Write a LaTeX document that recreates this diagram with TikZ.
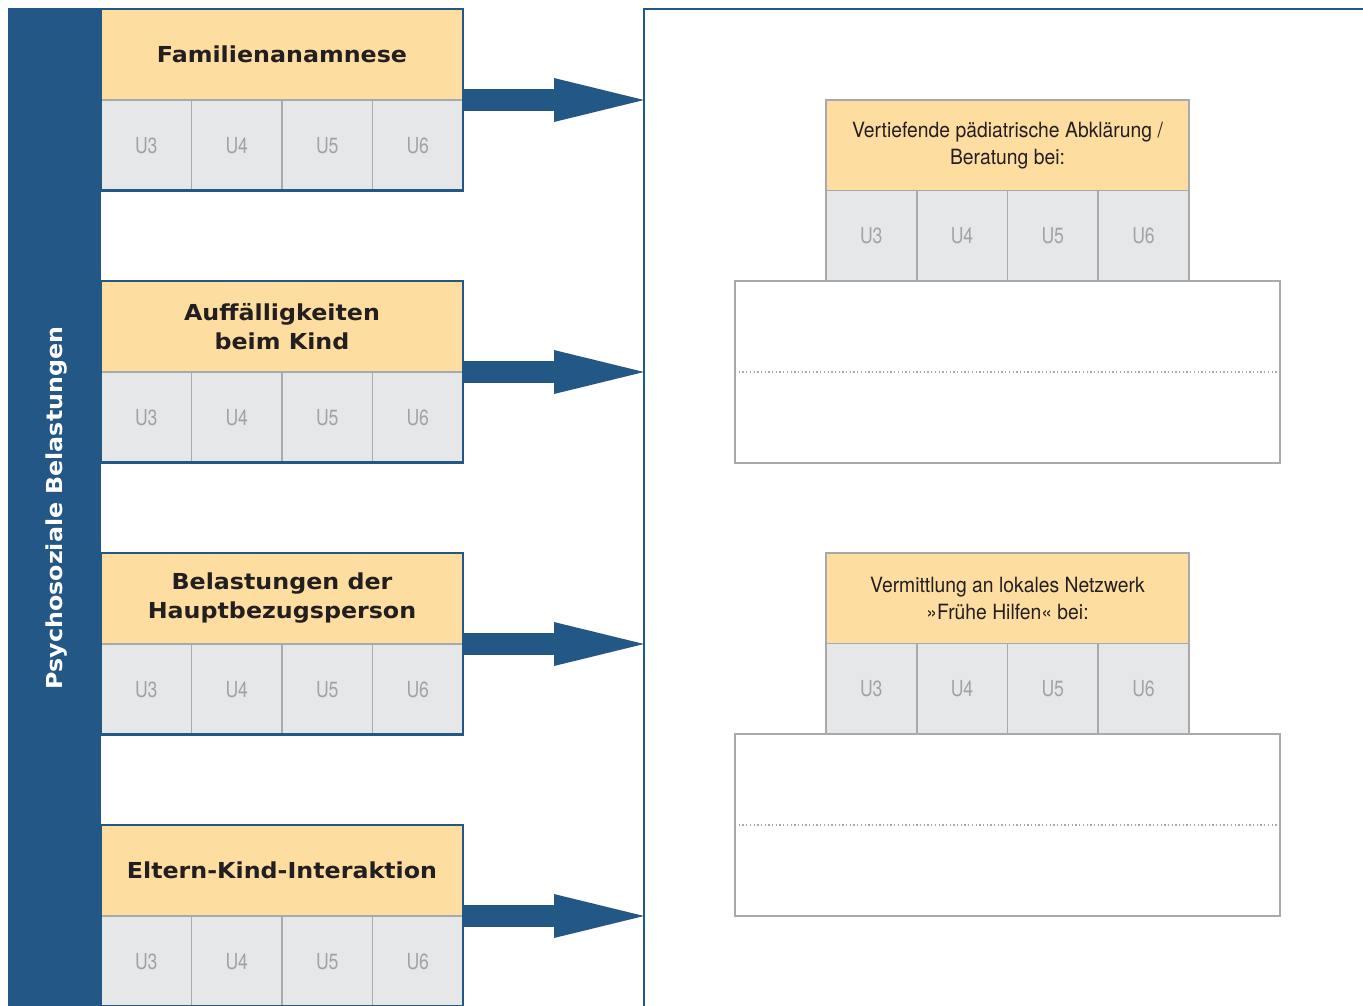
\documentclass[tikz,border=0pt]{standalone}
\usepackage{fontspec}
\setmainfont{TeX Gyre Heros}
\newfontfamily\condf[FakeStretch=0.8]{TeX Gyre Heros}
\newfontfamily\rcondf[FakeStretch=0.92]{TeX Gyre Heros}
\newfontfamily\boldf[FakeStretch=1.08]{DejaVu Sans}
\usetikzlibrary{arrows.meta}
\definecolor{dblue}{HTML}{235785}
\definecolor{ylw}{HTML}{FDDDA0}
\definecolor{cellg}{HTML}{E6E7E8}
\definecolor{lineg}{HTML}{A7A9AC}
\definecolor{txtg}{HTML}{A0A2A5}
\definecolor{txtd}{HTML}{231F20}
\tikzset{
  ltitle/.style={fill=ylw, draw=lineg, line width=1.5pt, minimum width=362pt, minimum height=91pt,
    inner sep=0pt, outer sep=0pt, anchor=north west, text=txtd, align=center,
    font=\boldf\bfseries\fontsize{22}{29}\selectfont},
  rtitle/.style={fill=ylw, draw=lineg, line width=2pt, minimum width=363pt, minimum height=90.5pt,
    inner sep=0pt, outer sep=0pt, anchor=north west, text=txtd, align=center,
    font=\rcondf\fontsize{21}{27}\selectfont},
  cell/.style={fill=cellg, draw=lineg, line width=1.2pt, minimum width=90.5pt, minimum height=90.5pt,
    inner sep=0pt, outer sep=0pt, anchor=north west, text=txtg,
    font=\condf\fontsize{22}{26}\selectfont},
  wbox/.style={fill=white, draw=lineg, line width=2.5pt, minimum width=545pt, minimum height=182pt,
    inner sep=0pt, outer sep=0pt, anchor=north west},
  dotline/.style={draw=lineg, line width=1.3pt, dash pattern=on 1.3pt off 2.4pt},
  frame/.style={draw=dblue, line width=2.5pt},
  blockarrow/.style={draw=dblue, line width=22pt, -{Triangle[length=90pt, width=44pt, line width=0pt]}},
}
\begin{document}
\begin{tikzpicture}[x=1pt, y=-1pt]
\useasboundingbox (0,0) rectangle (1363,1005);
\clip (0,0) rectangle (1363,1005);
% side bar
\node[fill=dblue, minimum width=93pt, minimum height=1000pt, inner sep=0pt, outer sep=0pt, anchor=north west] (side) at (8,8) {};
\node[rotate=90, text=white, font=\boldf\bfseries\fontsize{22}{26}\selectfont] (sidelbl) at (57,508) {Psychosoziale Belastungen};
% right panel
\coordinate (panel) at (644,9);
\coordinate (pbot) at (644,1010);
\coordinate (pright) at (1370,9);
\draw[dblue, line width=2.5pt] (pbot) -- (panel) -- (pright);
% left groups
\foreach \i/\txt in {1/{Familienanamnese}, 2/{Auffälligkeiten\\beim Kind}, 3/{Belastungen der\\Hauptbezugsperson}, 4/{Eltern-Kind-Interaktion}} {
  \pgfmathsetmacro{\yy}{9+272*(\i-1)}
  \node[ltitle] (t\i) at (101,\yy) {\txt};
  \foreach \j/\u in {0/U3,1/U4,2/U5,3/U6} {
    \node[cell] (c\i\j) at ({101+90.5*\j},{\yy+91}) {\u};
  }
  \draw[frame] (t\i.north west) rectangle (c\i3.south east);
  \draw[blockarrow] (t\i.south east) -- (t\i.south east -| panel);
}
% right groups
\foreach \k/\txt/\yy in {1/{Vertiefende pädiatrische Abklärung /\\Beratung bei:}/100, 2/{Vermittlung an lokales Netzwerk\\»Frühe Hilfen« bei:}/553} {
  \node[rtitle] (r\k) at (826,\yy) {\txt};
  \foreach \j/\u in {0/U3,1/U4,2/U5,3/U6} {
    \node[cell, line width=1.5pt] (rc\k\j) at ({826+90.75*\j},{\yy+90.5}) {\u};
  }
  \draw[lineg, line width=2pt] (r\k.north west) rectangle (rc\k3.south east);
  \node[wbox] (w\k) at (735,{\yy+181}) {};
  \draw[dotline] (w\k.west) -- (w\k.east);
}
\end{tikzpicture}
\end{document}
